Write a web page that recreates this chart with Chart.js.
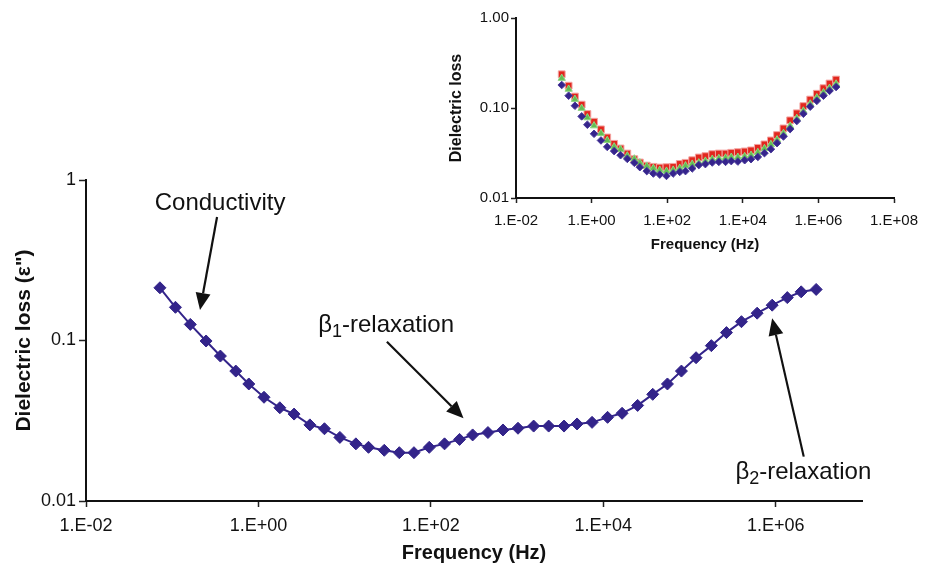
<!DOCTYPE html>
<html><head><meta charset="utf-8">
<script src="https://cdn.jsdelivr.net/npm/chart.js@4/dist/chart.umd.min.js"></script>
<style>
html,body{margin:0;padding:0;background:#fff;}
#wrap{position:relative;width:930px;height:567px;overflow:hidden;background:#fff;}
#main{position:absolute;left:0;top:0;}
#inset{position:absolute;left:430px;top:0;}
</style></head><body>
<div id="wrap"><canvas id="main" width="930" height="567"></canvas><canvas id="inset" width="500" height="260"></canvas></div>
<script>
// ---- data ----
const frequency = [0.072, 0.109, 0.162, 0.247, 0.362, 0.546, 0.773, 1.16, 1.77, 2.59, 3.95, 5.83, 8.8, 13.5, 18.9, 28.8, 43, 63.6, 95.7, 144, 215, 305, 459, 686, 1024, 1555, 2322, 3500, 4955, 7400, 11200, 16500, 25000, 37400, 55400, 80500, 119000, 179000, 268000, 400000, 608000, 908000, 1360000, 1970000, 2940000];
const lossMain = [0.213, 0.161, 0.126, 0.0993, 0.080, 0.0645, 0.0536, 0.0443, 0.0381, 0.0348, 0.0298, 0.0282, 0.0249, 0.0227, 0.0216, 0.0207, 0.0200, 0.0200, 0.0216, 0.0227, 0.0242, 0.0258, 0.0267, 0.0277, 0.0284, 0.0293, 0.0293, 0.0293, 0.0302, 0.0309, 0.0332, 0.0352, 0.0394, 0.0462, 0.0536, 0.0645, 0.0781, 0.0929, 0.112, 0.131, 0.148, 0.166, 0.185, 0.201, 0.208];
const insetFrequency = frequency.slice(2);
const lossBlue = [0.180, 0.137, 0.106, 0.0807, 0.0652, 0.0517, 0.0436, 0.0370, 0.0332, 0.0299, 0.0272, 0.0246, 0.0220, 0.0199, 0.0187, 0.0182, 0.0176, 0.0187, 0.0195, 0.0199, 0.0213, 0.0232, 0.0238, 0.0248, 0.0252, 0.0252, 0.0257, 0.0254, 0.0263, 0.0270, 0.0286, 0.0315, 0.0349, 0.0407, 0.0483, 0.0583, 0.0716, 0.0863, 0.1035, 0.120, 0.137, 0.155, 0.171];
const lossRed = [0.237, 0.177, 0.134, 0.109, 0.0857, 0.0704, 0.0579, 0.0471, 0.0400, 0.0355, 0.0312, 0.0270, 0.0248, 0.0229, 0.0222, 0.0218, 0.0220, 0.0222, 0.0239, 0.0246, 0.0263, 0.0282, 0.0292, 0.0307, 0.0312, 0.0312, 0.0318, 0.0323, 0.0329, 0.0338, 0.0361, 0.0394, 0.0436, 0.0500, 0.0593, 0.0729, 0.0873, 0.105, 0.124, 0.144, 0.166, 0.187, 0.207];
const lossGreen = [0.214, 0.162, 0.125, 0.0993, 0.078, 0.0635, 0.0522, 0.0436, 0.0370, 0.0347, 0.0294, 0.0272, 0.0246, 0.0226, 0.0214, 0.0204, 0.0199, 0.0204, 0.0214, 0.0228, 0.0238, 0.0246, 0.0257, 0.0270, 0.0275, 0.0279, 0.0284, 0.0284, 0.0289, 0.0299, 0.0321, 0.0355, 0.0394, 0.0443, 0.0522, 0.0630, 0.0767, 0.0927, 0.111, 0.130, 0.148, 0.166, 0.185];

const mainXTicks = [0.01, 1, 100, 1e4, 1e6];
const mainXTickLabels = ['1.E-02', '1.E+00', '1.E+02', '1.E+04', '1.E+06'];
const mainYTicks = [0.01, 0.1, 1];
const mainYTickLabels = ['0.01', '0.1', '1'];
const insetXTicks = [0.01, 1, 100, 1e4, 1e6, 1e8];
const insetXTickLabels = ['1.E-02', '1.E+00', '1.E+02', '1.E+04', '1.E+06', '1.E+08'];
const insetYTicks = [0.01, 0.1, 1];
const insetYTickLabels = ['0.01', '0.10', '1.00'];

// annotation anchors in data coordinates [frequency, loss]
const arrowStart = [[0.331, 0.588], [30.9, 0.0983], [2.11e6, 0.0189]];
const arrowTip = [[0.21, 0.155], [239, 0.0328], [9.08e5, 0.1375]];
const labelText = ['Conductivity', '1', '2'];
const labelAnchor = [[0.359, 0.650], [4.93, 0.113], [3.4e5, 0.0137]];

// ---- rendering ----
const FONT = '"Liberation Sans", Arial, Helvetica, sans-serif';
const pts = (xs, ys) => xs.map((x, i) => ({x: x, y: ys[i]}));
function lookup(vals, labels) {
  return function (v) {
    let best = 0, bd = Infinity;
    vals.forEach((t, i) => { const d = Math.abs(Math.log10(t) - Math.log10(v)); if (d < bd) { bd = d; best = i; } });
    return labels[best];
  };
}
function axis(o) {
  return {
    type: 'logarithmic', min: o.min, max: o.max, position: o.position,
    afterBuildTicks: s => { s.ticks = o.ticks.map(v => ({value: v})); },
    afterFit: s => { if (o.position === 'bottom') s.height = o.size; else s.width = o.size; },
    ticks: {callback: lookup(o.ticks, o.labels), autoSkip: false, maxRotation: 0, minRotation: 0,
      padding: o.pad, color: '#111', font: {family: FONT, size: o.fs}},
    grid: {drawOnChartArea: false, drawTicks: true, tickLength: o.tl, tickColor: '#222', tickWidth: 1.5},
    border: {display: true, color: '#111', width: 2},
    title: {display: true, text: o.title, color: '#111', font: {family: FONT, size: o.tfs, weight: 'bold'}, padding: o.tpad}
  };
}

function drawArrow(ctx, x0, y0, x1, y1) {
  const ang = Math.atan2(y1 - y0, x1 - x0);
  const hl = 17, hw = 7.5;
  const bx = x1 - Math.cos(ang) * hl, by = y1 - Math.sin(ang) * hl;
  ctx.beginPath(); ctx.moveTo(x0, y0); ctx.lineTo(bx, by); ctx.lineWidth = 2.2; ctx.strokeStyle = '#111'; ctx.stroke();
  ctx.beginPath(); ctx.moveTo(x1, y1);
  ctx.lineTo(bx + Math.sin(ang) * hw, by - Math.cos(ang) * hw);
  ctx.lineTo(bx - Math.sin(ang) * hw, by + Math.cos(ang) * hw);
  ctx.closePath(); ctx.fillStyle = '#111'; ctx.fill();
}

const annotate = {
  id: 'annotate',
  afterDraw(chart) {
    const {ctx, scales: {x, y}} = chart;
    ctx.save();
    for (let i = 0; i < arrowStart.length; i++) {
      drawArrow(ctx, x.getPixelForValue(arrowStart[i][0]), y.getPixelForValue(arrowStart[i][1]),
        x.getPixelForValue(arrowTip[i][0]), y.getPixelForValue(arrowTip[i][1]));
    }
    ctx.fillStyle = '#111'; ctx.textBaseline = 'alphabetic';
    // Conductivity
    ctx.font = '24px ' + FONT; ctx.textAlign = 'center';
    ctx.fillText(labelText[0], x.getPixelForValue(labelAnchor[0][0]), y.getPixelForValue(labelAnchor[0][1]));
    // beta labels with subscript
    ctx.textAlign = 'left';
    for (let i = 1; i < 3; i++) {
      let bx = x.getPixelForValue(labelAnchor[i][0]);
      const by = y.getPixelForValue(labelAnchor[i][1]);
      ctx.font = '24px ' + FONT; ctx.fillText('\u03B2', bx, by); bx += ctx.measureText('\u03B2').width;
      ctx.font = '18px ' + FONT; ctx.fillText(labelText[i], bx, by + 5); bx += ctx.measureText(labelText[i]).width;
      ctx.font = '24px ' + FONT; ctx.fillText('-relaxation', bx, by);
    }
    ctx.restore();
  }
};

const MAIN_COLOR = '#33248A';
new Chart(document.getElementById('main'), {
  type: 'line',
  data: {datasets: [{
    data: pts(frequency, lossMain), borderColor: MAIN_COLOR, borderWidth: 2, tension: 0,
    pointStyle: 'rectRot', pointRadius: 6, pointBackgroundColor: MAIN_COLOR, pointBorderColor: MAIN_COLOR, pointBorderWidth: 1
  }]},
  options: {
    responsive: false, animation: false, events: [],
    layout: {padding: {left: 0, right: 68, top: 180, bottom: 0}},
    plugins: {legend: {display: false}, tooltip: {enabled: false}},
    scales: {
      x: axis({min: 0.01, max: 1e7, position: 'bottom', ticks: mainXTicks, labels: mainXTickLabels, size: 66, pad: 8, fs: 18, tl: 6,
        title: 'Frequency (Hz)', tfs: 20, tpad: {top: 0, bottom: 2}}),
      y: axis({min: 0.01, max: 1, position: 'left', ticks: mainYTicks, labels: mainYTickLabels, size: 86, pad: 3, fs: 18, tl: 7,
        title: 'Dielectric loss (\u03B5")', tfs: 21, tpad: {top: 12, bottom: 0}})
    }
  },
  plugins: [annotate]
});

new Chart(document.getElementById('inset'), {
  type: 'line',
  data: {datasets: [
    {data: pts(insetFrequency, lossBlue), showLine: false, pointStyle: 'rectRot', pointRadius: 3.8,
      pointBackgroundColor: '#35248C', pointBorderColor: '#4a3a9a', pointBorderWidth: 1},
    {data: pts(insetFrequency, lossGreen), showLine: false, pointStyle: 'triangle', pointRadius: 4.2,
      pointBackgroundColor: '#62BE52', pointBorderColor: '#8fd383', pointBorderWidth: 1},
    {data: pts(insetFrequency, lossRed), showLine: false, pointStyle: 'rect', pointRadius: 4.8,
      pointBackgroundColor: '#E2271E', pointBorderColor: '#f3a3a0', pointBorderWidth: 1}
  ]},
  options: {
    responsive: false, animation: false, events: [],
    layout: {padding: {left: 0, right: 36, top: 18, bottom: 0}},
    plugins: {legend: {display: false}, tooltip: {enabled: false}},
    scales: {
      x: axis({min: 0.01, max: 1e8, position: 'bottom', ticks: insetXTicks, labels: insetXTickLabels, size: 62, pad: 9, fs: 15, tl: 5,
        title: 'Frequency (Hz)', tfs: 15, tpad: {top: 0, bottom: 6}}),
      y: axis({min: 0.01, max: 1, position: 'left', ticks: insetYTicks, labels: insetYTickLabels, size: 86, pad: 2, fs: 15, tl: 5,
        title: 'Dielectric loss', tfs: 16, tpad: {top: 17, bottom: 0}})
    }
  }
});
</script>
</body></html>
